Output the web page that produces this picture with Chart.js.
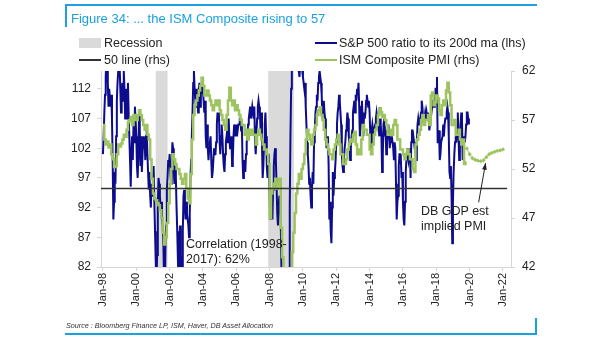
<!DOCTYPE html>
<html lang="en">
<head>
  <meta charset="UTF-8">
  <title>ISM Composite vs S&amp;P 500 ratio</title>
  <script src="https://cdn.jsdelivr.net/npm/chart.js"></script>
  <style>
    body { margin: 0; background: #fff; font-family: "Liberation Sans", Arial, sans-serif; }
    #wrap { position: relative; width: 605px; height: 341px; overflow: hidden; }
    #chart { position: absolute; left: 0; top: 0; }
    .abs { position: absolute; white-space: nowrap; }
    .txt { font-size: 12.5px; color: #222; line-height: 14px; }
    .rule { position: absolute; background: #1ba1e2; }
  </style>
</head>
<body>
<div id="wrap">
  <canvas id="chart" width="605" height="341"></canvas>

  <div class="rule" style="left:65px;top:4px;width:472px;height:2px"></div>
  <div class="rule" style="left:65px;top:4px;width:2px;height:23px"></div>
  <div class="abs" style="left:71px;top:11px;font-size:13px;color:#1ba1e2">Figure 34: ... the ISM Composite rising to 57</div>

  <div class="abs" style="left:79px;top:38px;width:22px;height:10px;background:#dadada"></div>
  <div class="abs txt" style="left:104px;top:36px">Recession</div>
  <div class="abs" style="left:79px;top:59px;width:22px;height:2px;background:#333"></div>
  <div class="abs txt" style="left:104px;top:53px">50 line (rhs)</div>
  <div class="abs" style="left:315px;top:42px;width:22px;height:2px;background:#0c0c8c"></div>
  <div class="abs txt" style="left:339px;top:36px">S&amp;P 500 ratio to its 200d ma (lhs)</div>
  <div class="abs" style="left:315px;top:59px;width:22px;height:2px;background:#9dc45f"></div>
  <div class="abs txt" style="left:339px;top:53px">ISM Composite PMI (rhs)</div>

  <div class="abs txt" style="left:186px;top:237px">Correlation (1998-</div>
  <div class="abs txt" style="left:186px;top:252px">2017): 62%</div>
  <div class="abs txt" style="left:421px;top:204px">DB GDP est</div>
  <div class="abs txt" style="left:421px;top:219px">implied PMI</div>

  <div class="abs" style="left:66px;top:321px;font-size:7.2px;font-style:italic;color:#333">Source : Bloomberg Finance LP, ISM, Haver, DB Asset Allocation</div>
  <div class="rule" style="left:65px;top:333px;width:472px;height:2px"></div>
  <div class="rule" style="left:535px;top:318px;width:2px;height:17px"></div>
</div>

<script>
// twice a month, Jan-1998 .. Dec-2019 (one row per year)
const spxRatio = [
  101, 104, 108, 111, 114, 117, 117, 113, 109, 112, 112, 109, 111, 107, 100, 90, 93, 98, 96, 104, 110, 113, 115, 117,
  116, 112, 108, 111, 113, 110, 115, 112, 107, 110, 112, 107, 113, 108, 104, 100, 95.5, 101, 104, 100, 106, 103, 109, 107,
  104, 99, 97, 101, 108, 105, 99, 104, 98, 101, 104, 102, 103, 100, 104, 105, 101, 98, 95, 98, 94, 92, 96, 94,
  97, 99, 93, 88, 83, 79, 84, 92, 97, 96, 94, 92, 93, 90, 89, 86, 80, 76, 85, 89, 95, 97, 100, 99,
  101, 98, 96, 99, 103, 102, 98, 96, 99, 97, 92, 88, 83, 78, 86, 89, 84, 80, 80, 88, 94, 95, 92, 90,
  93, 91, 90, 89, 87, 91, 97, 100, 104, 108, 113, 115, 112, 110, 109, 112, 111, 108, 112, 113, 109, 111, 112, 113,
  113, 110, 108, 110, 104, 102, 106, 102, 100, 102, 103, 104, 100, 97, 98, 100, 102, 101, 101, 103, 106, 108, 107, 108,
  103, 101, 104, 106, 104, 101, 99, 98, 101, 103, 104, 103, 106, 107, 104, 102, 103, 104, 99, 100, 104, 106, 105, 104,
  106, 104, 105, 106, 106, 107, 107, 105, 106, 100, 97, 98, 100, 98, 101, 103, 104, 106, 107, 108, 109, 107, 108, 109,
  108, 107, 109, 103, 101, 104, 107, 109, 110, 109, 108, 105, 108, 103, 97, 99, 103, 106, 108, 104, 99, 97, 101, 98,
  94, 90, 94, 92, 90, 95, 99, 101, 102, 100, 96, 91, 89, 92, 94, 93, 90, 82, 70, 72, 68, 66, 73, 74,
  78, 74, 72, 68, 78, 92, 104, 112, 116, 115, 117, 116, 115, 117, 118, 117, 117, 116, 115, 114, 116, 117, 116, 115,
  114, 113, 112, 113, 109, 106, 103, 101, 99, 96, 97, 94, 92, 95, 98, 96, 103, 105, 108, 109, 111, 110, 113, 114,
  115, 114, 113, 111, 107, 109, 110, 108, 107, 104, 102, 103, 104, 99, 90, 93, 88, 86, 92, 98, 94, 97, 98, 100,
  103, 106, 108, 109, 111, 110, 108, 106, 101, 99, 98, 100, 102, 103, 105, 106, 108, 107, 104, 103, 100, 102, 104, 105,
  108, 109, 110, 108, 111, 110, 112, 111, 113, 109, 104, 106, 109, 110, 106, 104, 108, 107, 108, 110, 111, 110, 109, 110,
  108, 104, 102, 105, 106, 105, 103, 105, 106, 107, 108, 107, 107, 105, 104, 107, 106, 104, 98, 101, 106, 107, 104, 105,
  101, 103, 105, 106, 104, 102, 104, 103, 104, 103, 102, 100, 103, 102, 96, 90, 93, 94, 99, 101, 101, 100, 97, 98,
  93, 90, 89, 93, 98, 100, 102, 101, 100, 101, 102, 97, 103, 105, 105, 104, 103, 102, 102, 100, 103, 106, 107, 106,
  106, 107, 108, 110, 109, 107, 106, 107, 108, 107, 108, 107, 108, 107, 105, 106, 107, 108, 109, 110, 110, 109, 110, 112,
  112, 114, 103, 103, 105, 100, 101, 103, 103, 104, 106, 104, 106, 107, 107, 108, 109, 108, 104, 98, 97, 99, 94, 86,
  93, 98, 101, 103, 104, 103, 106, 108, 104, 100, 102, 106, 108, 107, 100, 101, 104, 103, 104, 106, 108, 108, 107, 106
];

// monthly, Jan-1998 .. Oct-2019
const ismComposite = [
  56.5, 55, 54.5, 54.8, 54.2, 54.5, 53.5, 53, 52.2, 52.3, 53.5, 54.5,
  54.3, 54.6, 55, 55.5, 55.3, 56, 56.8, 57, 57.3, 56.5, 57.5, 57,
  57, 57.5, 58, 57.5, 57, 56.5, 56, 56.5, 55.5, 55, 53, 51,
  49.5, 49, 48.8, 48.5, 48.3, 47.8, 47, 45.5, 44.3, 45, 46.5, 48.5,
  50.5, 52, 53.5, 53, 52.5, 52, 52, 51.5, 51, 50.5, 51, 51.5,
  50, 49, 48.5, 51.5, 55, 57.5, 58.5, 59, 59.5, 60, 60.5, 61.3,
  60.5, 59.5, 59.5, 60, 59.5, 59, 58.5, 58, 58.5, 59, 58.5, 59,
  58, 57.5, 57, 56.5, 56, 57.5, 59, 60.3, 59, 58.5, 59, 58,
  58.5, 58, 57.5, 57, 56.5, 56.5, 55.5, 56, 55, 56, 55.5, 56,
  55.5, 55.5, 54.5, 55.5, 56, 55.5, 55, 54.5, 54, 54, 53.5, 52.5,
  47, 49.5, 50, 50.5, 51, 50, 50.5, 51, 46, 43, 39, 38,
  39, 40, 39.5, 41.5, 43.5, 45.5, 47.5, 49.5, 50.5, 51.5, 51, 52,
  52.5, 53.5, 55, 56, 55.5, 55, 54.5, 55.5, 56, 56.5, 57.5, 58,
  58.3, 57.5, 57, 56, 55, 54.5, 54, 53.5, 53.5, 53, 54, 54.5,
  55, 55.5, 54.5, 53.5, 53.5, 52.5, 52.5, 53, 54, 54.5, 55, 54.8,
  55.5, 55.8, 54.5, 53.5, 54, 53.5, 55, 56.5, 56, 56, 55.5, 55.5,
  54, 53.5, 54.5, 55.5, 56, 56.5, 57.5, 58.2, 57.8, 57.3, 57.5, 57,
  56.5, 55.5, 55.5, 56, 55.5, 56.5, 57, 56.5, 55, 55, 54, 54,
  53.5, 53, 53.5, 54, 53.5, 53, 53, 52, 51.7, 54.5, 55, 55.5,
  56, 57, 57.5, 56.5, 57, 57, 57.5, 56.5, 59.5, 59.8, 58.5, 58.8,
  59.5, 59.2, 58, 57.5, 58.5, 59, 58.5, 60, 60.8, 59.8, 58.5, 56.5,
  56.5, 57, 55.5, 55.5, 56, 55, 54.5, 55, 52.5, 52.8
];

// DB GDP-implied PMI, every 2 months Nov-2019 .. Jan-2022
const pmiForecastStart = 262;
const pmiForecast = [54.1, 53.5, 53.1, 52.95, 52.85, 52.8, 52.9, 53.2, 53.5, 53.65, 53.75, 53.85, 53.9, 54.0];

// US recessions, month index [start, end]
const recessions = [[38, 46.5], [119, 137.5]];

const xTickYears = [1998, 2000, 2002, 2004, 2006, 2008, 2010, 2012, 2014, 2016, 2018, 2020, 2022];
const leftTicks = [82, 87, 92, 97, 102, 107, 112];
const rightTicks = [42, 47, 52, 57, 62];
const fiftyLine = 50;

const toPts = (arr, start, step) => arr.map((v, i) => ({ x: start + i * step, y: v }));

const recessionPlugin = {
  id: 'recessions',
  beforeDatasetsDraw(chart) {
    const { ctx, chartArea, scales } = chart;
    ctx.save();
    ctx.fillStyle = '#dadada';
    recessions.forEach(([a, b]) => {
      const x1 = scales.x.getPixelForValue(a);
      const x2 = scales.x.getPixelForValue(b);
      ctx.fillRect(x1, chartArea.top, x2 - x1, chartArea.bottom - chartArea.top);
    });
    ctx.restore();
  }
};

const arrowPlugin = {
  id: 'arrow',
  afterDatasetsDraw(chart) {
    const { ctx, scales } = chart;
    const x0 = scales.x.getPixelForValue(270.5), y0 = scales.y2.getPixelForValue(48.6);
    const x1 = scales.x.getPixelForValue(275.5), y1 = scales.y2.getPixelForValue(52.6);
    const ang = Math.atan2(y1 - y0, x1 - x0);
    ctx.save();
    ctx.strokeStyle = '#222';
    ctx.fillStyle = '#222';
    ctx.lineWidth = 1;
    ctx.beginPath();
    ctx.moveTo(x0, y0);
    ctx.lineTo(x1, y1);
    ctx.stroke();
    ctx.beginPath();
    ctx.moveTo(x1, y1);
    ctx.lineTo(x1 - 7 * Math.cos(ang - 0.35), y1 - 7 * Math.sin(ang - 0.35));
    ctx.lineTo(x1 - 7 * Math.cos(ang + 0.35), y1 - 7 * Math.sin(ang + 0.35));
    ctx.closePath();
    ctx.fill();
    ctx.restore();
  }
};

const axisLine = '#d6d6d6';
const tickFont = { family: '"Liberation Sans", Arial, sans-serif', size: 12 };

new Chart(document.getElementById('chart'), {
  type: 'line',
  data: {
    datasets: [
      {
        label: '50 line (rhs)',
        data: [{ x: -2, y: fiftyLine }, { x: 291, y: fiftyLine }],
        yAxisID: 'y2',
        borderColor: '#333',
        borderWidth: 1.5,
        pointRadius: 0,
        order: 0
      },
      {
        label: 'ISM Composite PMI (rhs)',
        data: toPts(ismComposite, 0, 1),
        yAxisID: 'y2',
        borderColor: '#9dc45f',
        borderWidth: 2.5,
        pointRadius: 0,
        stepped: true,
        order: 1
      },
      {
        label: 'DB GDP est implied PMI',
        data: toPts(pmiForecast, pmiForecastStart, 2),
        yAxisID: 'y2',
        borderColor: '#9dc45f',
        backgroundColor: '#9dc45f',
        borderWidth: 1,
        pointStyle: 'rectRot',
        pointRadius: 2.2,
        pointBorderWidth: 0,
        order: 1
      },
      {
        label: 'S&P 500 ratio to its 200d ma (lhs)',
        data: toPts(spxRatio, 0, 0.5),
        yAxisID: 'y',
        borderColor: '#0c0c8c',
        borderWidth: 2,
        pointRadius: 0,
        tension: 0,
        order: 2
      }
    ]
  },
  options: {
    responsive: false,
    animation: false,
    devicePixelRatio: 1,
    layout: { padding: { top: 71, left: 0, right: 0, bottom: 0 } },
    plugins: { legend: { display: false }, tooltip: { enabled: false } },
    scales: {
      x: {
        type: 'linear',
        min: -1.4,
        max: 293.8,
        afterFit: s => { s.height = 74; },
        afterBuildTicks: s => { s.ticks = xTickYears.map(y => ({ value: (y - 1998) * 12 })); },
        grid: { drawOnChartArea: false, color: axisLine, tickLength: 4 },
        border: { color: axisLine },
        ticks: {
          autoSkip: false,
          minRotation: 90,
          maxRotation: 90,
          padding: 2,
          color: '#222',
          font: { family: tickFont.family, size: 11 },
          callback: v => 'Jan-' + String(1998 + Math.round(v / 12)).slice(2)
        }
      },
      y: {
        position: 'left',
        min: 82,
        max: 115,
        afterFit: s => { s.width = 101; },
        afterBuildTicks: s => { s.ticks = leftTicks.map(v => ({ value: v })); },
        grid: { drawOnChartArea: false, color: axisLine, tickLength: 4 },
        border: { color: axisLine },
        ticks: { padding: 6, color: '#222', font: tickFont }
      },
      y2: {
        position: 'right',
        min: 42,
        max: 62,
        afterFit: s => { s.width = 94; },
        afterBuildTicks: s => { s.ticks = rightTicks.map(v => ({ value: v })); },
        grid: { drawOnChartArea: false, color: axisLine, tickLength: 4 },
        border: { color: axisLine },
        ticks: { padding: 7, color: '#222', font: tickFont }
      }
    }
  },
  plugins: [recessionPlugin, arrowPlugin]
});
</script>
</body>
</html>
